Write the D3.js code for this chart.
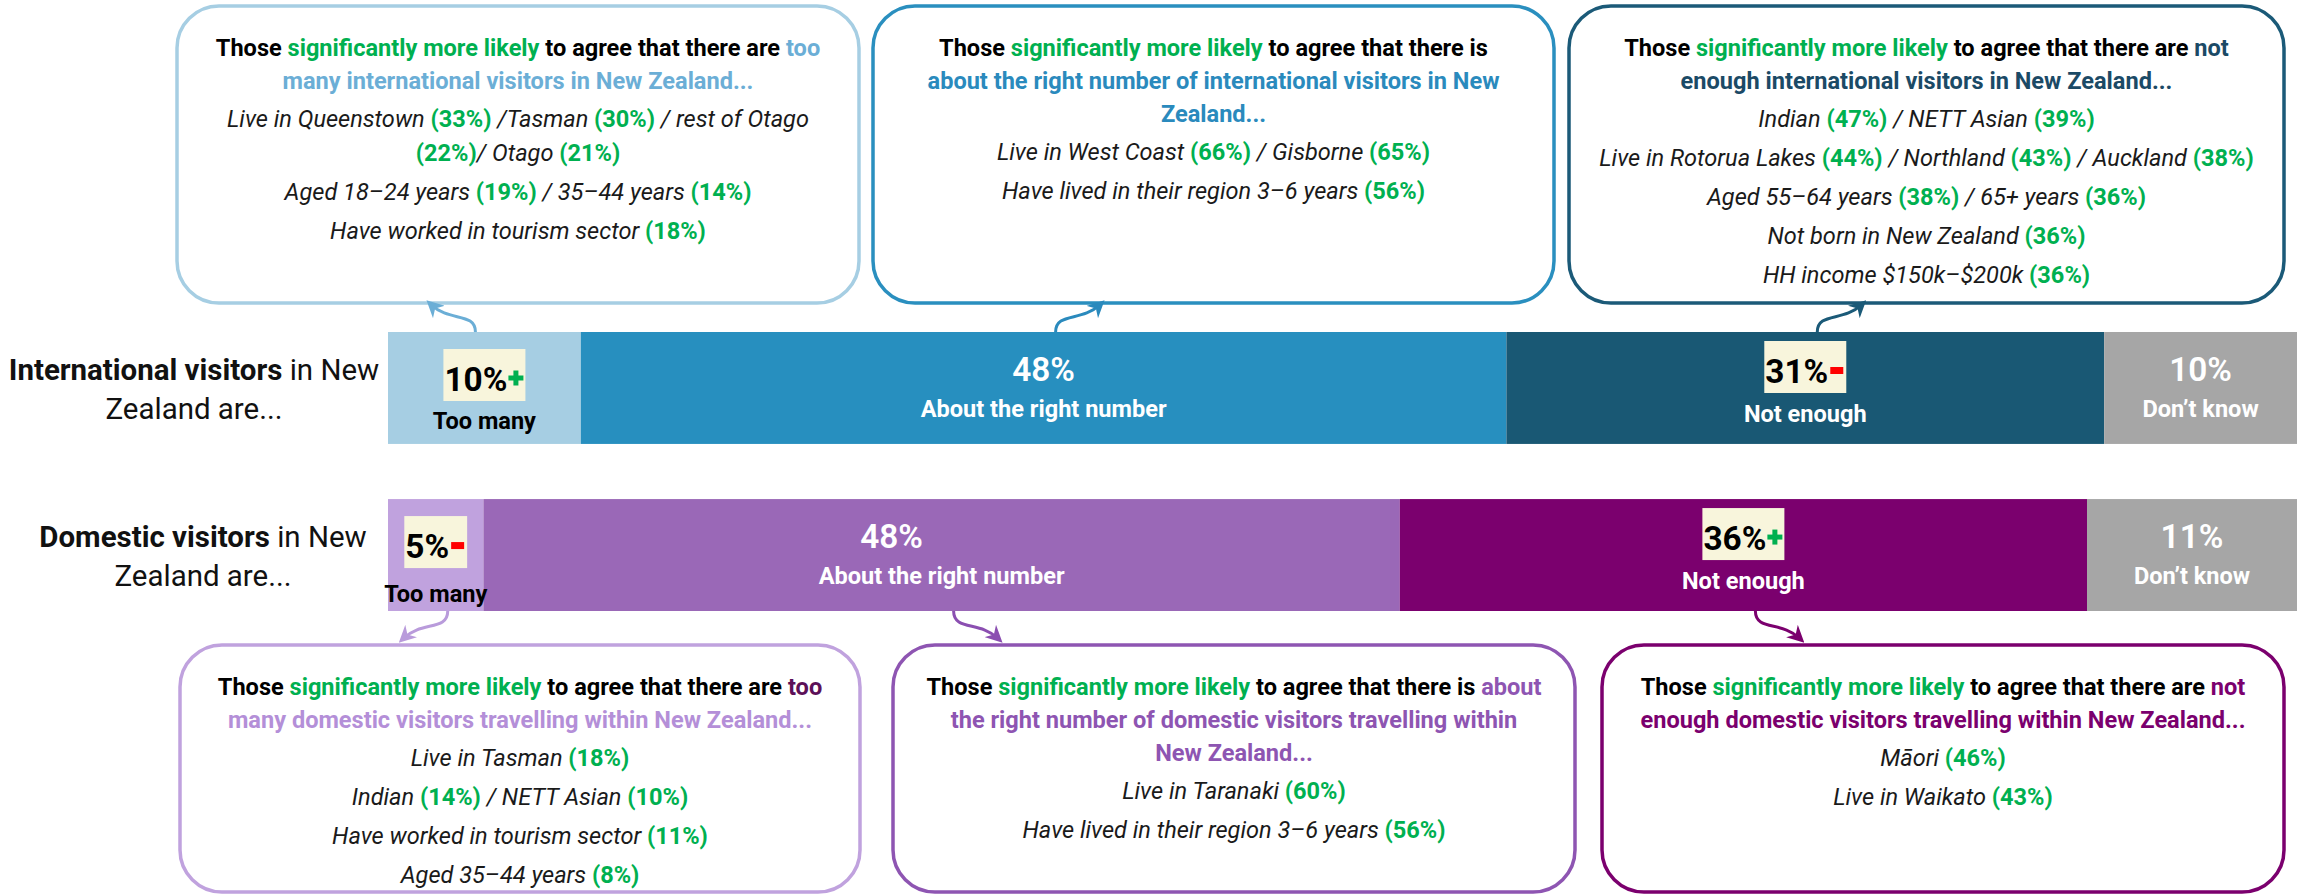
<!DOCTYPE html>
<html>
<head>
<meta charset="utf-8">
<script src="https://cdn.jsdelivr.net/npm/d3@7"></script>
<style>
  html, body { margin: 0; padding: 0; background: #fff; }
  svg { display: block; font-family: Roboto, "Noto Sans", sans-serif; }
  text { white-space: pre; }
</style>
</head>
<body>
<svg id="chart" width="2299" height="894"></svg>
<script>
// ---- data ----
const categories = ["Too many", "About the right number", "Not enough", "Don\u2019t know"]
const rowKeys = ["International", "Domestic"]
const intlValues = [10, 48, 31, 10]
const domValues = [5, 48, 36, 11]
// significance markers shown next to the percentage
const intlSig = ["+", "", "-", ""]
const domSig = ["-", "", "+", ""]
const rowLabelBold = ["International visitors", "Domestic visitors"]

// callout texts (title lines: [text, role]; role k=black, g=green, a=accent, b=second accent)
const intlTitles = [
  [[["Those ", "k"], ["significantly more likely", "g"], [" to agree that there are ", "k"], ["too", "a"]],
   [["many international visitors in New Zealand...", "a"]]],
  [[["Those ", "k"], ["significantly more likely", "g"], [" to agree that there is", "k"]],
   [["about the right number of international visitors in New", "a"]],
   [["Zealand...", "a"]]],
  [[["Those ", "k"], ["significantly more likely", "g"], [" to agree that there are ", "k"], ["not", "a"]],
   [["enough international visitors in New Zealand...", "a"]]]
]
const intlItems = [
  [["Live in Queenstown (33%) /Tasman (30%) / rest of Otago", "(22%)/ Otago (21%)"],
   ["Aged 18\u201324 years (19%) / 35\u201344 years (14%)"],
   ["Have worked in tourism sector (18%)"]],
  [["Live in West Coast (66%) / Gisborne (65%)"],
   ["Have lived in their region 3\u20136 years (56%)"]],
  [["Indian (47%) / NETT Asian (39%)"],
   ["Live in Rotorua Lakes (44%) / Northland (43%) / Auckland (38%)"],
   ["Aged 55\u201364 years (38%) / 65+ years (36%)"],
   ["Not born in New Zealand (36%)"],
   ["HH income $150k\u2013$200k (36%)"]]
]
const domTitles = [
  [[["Those ", "k"], ["significantly more likely", "g"], [" to agree that there are ", "k"], ["too", "b"]],
   [["many domestic visitors travelling within New Zealand...", "a"]]],
  [[["Those ", "k"], ["significantly more likely", "g"], [" to agree that there is ", "k"], ["about", "a"]],
   [["the right number of domestic visitors travelling within", "a"]],
   [["New Zealand...", "a"]]],
  [[["Those ", "k"], ["significantly more likely", "g"], [" to agree that there are ", "k"], ["not", "a"]],
   [["enough domestic visitors travelling within New Zealand...", "a"]]]
]
const domItems = [
  [["Live in Tasman (18%)"],
   ["Indian (14%) / NETT Asian (10%)"],
   ["Have worked in tourism sector (11%)"],
   ["Aged 35\u201344 years (8%)"]],
  [["Live in Taranaki (60%)"],
   ["Have lived in their region 3\u20136 years (56%)"]],
  [["M\u0101ori (46%)"],
   ["Live in Waikato (43%)"]]
]

// ---- styles ----
const GREEN = "#00B050"
const intlColors = ["#A6CEE3", "#278FBF", "#195874", "#A6A6A6"]
const domColors = ["#C0A2DE", "#9A68B7", "#7B006E", "#A6A6A6"]
const intlBorder = ["#A6CEE3", "#2A8FBF", "#1B5A78"]
const domBorder = ["#C0A2DE", "#8E55B2", "#7B006E"]
const intlAccent = [["#6BAED6", "#6BAED6"], ["#2A8ABD", "#2A8ABD"], ["#1B4A66", "#1B4A66"]]
const domAccent = [["#B48FD8", "#5C1058"], ["#8E55B2", "#8E55B2"], ["#7B006E", "#7B006E"]]
const intlArrow = ["#6BAED6", "#2A8ABD", "#1B5A78"]
const domArrow = ["#B99BDB", "#8B4FB1", "#7B006E"]

const svg = d3.select("#chart")
const defs = svg.append("defs")

function draw() {
  // horizontal squeeze so the stock font gets close to the condensed face of the original
  const probe = svg.append("text").style("font-size", "24px").attr("font-weight", 700)
    .text("Those significantly more likely to agree that there are too")
  const k = Math.min(1, 605 / probe.node().getComputedTextLength())
  probe.remove()

  function line(g, x, y, segs, size) {
    const t = g.append("text")
      .attr("transform", `translate(${x},${y}) scale(${k},1)`)
      .attr("text-anchor", "middle")
      .style("font-size", size + "px")
    segs.forEach(s => {
      t.append("tspan").text(s.text)
        .attr("fill", s.fill || "#111")
        .attr("font-weight", s.weight || 400)
        .attr("font-style", s.style || "normal")
    })
    return t
  }

  function parseItem(str) {
    return str.split(/(\(\d+%\))/).filter(s => s.length).map(s =>
      /^\(\d+%\)$/.test(s)
        ? { text: s, fill: GREEN, weight: 700 }
        : { text: s, fill: "#1a1a1a", weight: 400, style: "italic" })
  }

  // ---- bars ----
  const y = d3.scaleBand().domain(rowKeys).range([332, 611]).paddingInner(0.33)
  const rows = [
    { key: "International", values: intlValues, sig: intlSig, colors: intlColors },
    { key: "Domestic", values: domValues, sig: domSig, colors: domColors }
  ]
  const segCenters = {}

  rows.forEach((row, r) => {
    const x = d3.scaleLinear().domain([0, d3.sum(row.values)]).range([388, 2297])
    const ends = d3.cumsum(row.values)
    const segs = row.values.map((v, i) => ({ i, v, x0: x(ends[i] - v), x1: x(ends[i]) }))
    segCenters[row.key] = segs.map(s => (s.x0 + s.x1) / 2)
    const top = y(row.key)
    const g = svg.append("g").attr("class", "bar-" + row.key)

    g.selectAll("rect").data(segs).join("rect")
      .attr("x", d => d.x0).attr("y", top)
      .attr("width", d => d.x1 - d.x0).attr("height", y.bandwidth())
      .attr("fill", d => row.colors[d.i])

    segs.forEach(d => {
      const cx = (d.x0 + d.x1) / 2
      const dark = d.i === 0
      const sig = row.sig[d.i]
      if (sig) {
        const base = top + (d.i === 0 ? 59 : 51)
        const lab = g.append("g")
        const box = lab.append("rect").attr("fill", "#F8F5DC")
        const t = line(lab, 0, base, [{ text: d.v + "%", fill: "#000", weight: 700 }], 34)
        const w = t.node().getComputedTextLength() * k
        const total = w + 17
        const left = cx - total / 2
        t.attr("transform", `translate(${left + w / 2},${base}) scale(${k},1)`)
        box.attr("x", left - 1).attr("y", base - 42).attr("width", total + 2).attr("height", 52)
        const mx = left + w + 1, my = base - 13
        if (sig === "+") {
          lab.append("rect").attr("x", mx).attr("y", my - 2.5).attr("width", 15).attr("height", 5).attr("fill", GREEN)
          lab.append("rect").attr("x", mx + 5).attr("y", my - 7.5).attr("width", 5).attr("height", 15).attr("fill", GREEN)
        } else {
          lab.append("rect").attr("x", mx + 1).attr("y", my - 3).attr("width", 13).attr("height", 7).attr("fill", "#FF0000")
        }
        line(g, cx, top + (d.i === 0 ? (r === 0 ? 97 : 103) : 90),
          [{ text: categories[d.i], fill: dark ? "#000" : "#fff", weight: 700 }], 24)
      } else {
        // the domestic "about right" figure sits a little left of centre in the original
        const shift = (r === 1 && d.i === 1) ? -50 : 0
        line(g, cx + shift, top + 49, [{ text: d.v + "%", fill: "#fff", weight: 600 }], 34)
        line(g, cx, top + 85, [{ text: categories[d.i], fill: "#fff", weight: 700 }], 24)
      }
    })

    // row label
    const lx = r === 0 ? 194 : 203
    line(svg, lx, top + 48, [{ text: rowLabelBold[r], weight: 700 }, { text: " in New", weight: 400 }], 30)
    line(svg, lx, top + 87, [{ text: "Zealand are...", weight: 400 }], 30)
  })

  // ---- callouts ----
  const topBoxes = [[177, 859], [873, 1554], [1569, 2284]]
  const botBoxes = [[180, 860], [893, 1575], [1602, 2284]]

  function callout(xs, y0, y1, border, accent, titles, items) {
    const g = svg.append("g")
    g.append("rect").attr("x", xs[0]).attr("y", y0)
      .attr("width", xs[1] - xs[0]).attr("height", y1 - y0)
      .attr("rx", 42).attr("ry", 42)
      .attr("fill", "#fff").attr("stroke", border).attr("stroke-width", 3.5)
    const cx = (xs[0] + xs[1]) / 2
    let yy = y0 + 50
    titles.forEach(ln => {
      const segs = ln.map(([text, role]) => ({
        text, weight: 700,
        fill: role === "g" ? GREEN : role === "a" ? accent[0] : role === "b" ? accent[1] : "#000"
      }))
      line(g, cx, yy, segs, 24)
      yy += 33
    })
    yy += 5
    items.forEach(para => {
      para.forEach((ln, j) => {
        if (j > 0) yy += 34
        line(g, cx, yy, parseItem(ln), 24)
      })
      yy += 39
    })
  }

  topBoxes.forEach((xs, i) => callout(xs, 6, 303, intlBorder[i], intlAccent[i], intlTitles[i], intlItems[i]))
  botBoxes.forEach((xs, i) => callout(xs, 645, 892, domBorder[i], domAccent[i], domTitles[i], domItems[i]))

  // ---- curved arrows from the bars to the callouts ----
  function arrow(id, color, sx, sy, dir, up) {
    defs.append("marker").attr("id", id)
      .attr("viewBox", "0 0 10 10").attr("refX", 6).attr("refY", 5)
      .attr("markerWidth", 17).attr("markerHeight", 17)
      .attr("markerUnits", "userSpaceOnUse").attr("orient", "auto")
      .append("path").attr("d", "M0,0 L10,5 L0,10 L3,5 Z").attr("fill", color)
    const v = up ? -1 : 1
    const ex = sx + dir * 44, ey = sy + v * 27
    svg.append("path")
      .attr("d", `M${sx},${sy} C${sx},${sy + v * 20} ${sx + dir * 26},${sy + v * 10} ${ex},${ey}`)
      .attr("fill", "none").attr("stroke", color).attr("stroke-width", 3)
      .attr("marker-end", `url(#${id})`)
  }
  const dirs = [-1, 1, 1]
  const iTop = y("International"), dBot = y("Domestic") + y.bandwidth()
  dirs.forEach((dir, i) => {
    arrow("ai" + i, intlArrow[i], segCenters.International[i] + (i === 0 ? -9 : 12), iTop, dir, true)
    arrow("ad" + i, domArrow[i], segCenters.Domestic[i] + 12, dBot, dir, false)
  })
}

document.fonts.ready.then(draw)
</script>
</body>
</html>
